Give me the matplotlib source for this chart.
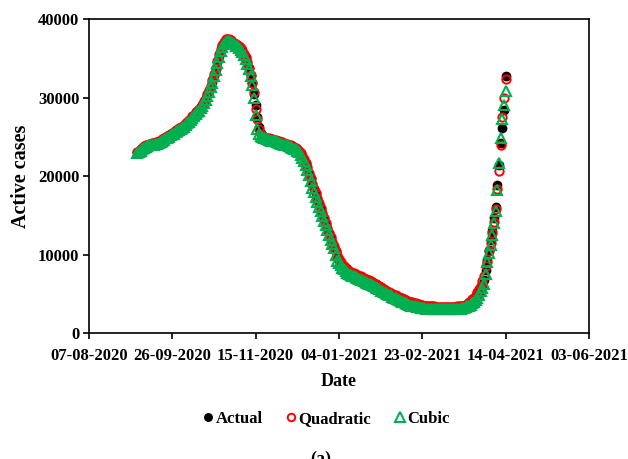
import datetime

import matplotlib
matplotlib.use("Agg")
import matplotlib.pyplot as plt
import matplotlib.dates as mdates
import numpy as np
import pandas as pd

plt.rcParams['font.family'] = ['Liberation Serif', 'DejaVu Serif']
plt.rcParams['font.weight'] = 'bold'

# Daily values, 05-09-2020 .. 14-04-2021
START_DATE = '2020-09-05'

actual = [
    23000, 23100, 23300, 23500, 23700, 23800, 23900, 24000, 24000, 24100,
    24100, 24200, 24200, 24300, 24400, 24600, 24700, 24900, 25000, 25100,
    25300, 25400, 25500, 25700, 25800, 26000, 26100, 26200, 26400, 26600,
    26800, 27000, 27200, 27500, 27700, 28000, 28200, 28400, 28700, 29000,
    29400, 29800, 30300, 30800, 31400, 32000, 32800, 33600, 34500, 35300,
    36000, 36500, 36900, 37200, 37300, 37300, 37200, 37000, 36900, 36700,
    36600, 36400, 36200, 35900, 35500, 35000, 34400, 33700, 32800, 31800,
    30500, 29000, 27500, 26200, 25500, 25200, 25000, 24900, 24800, 24700,
    24600, 24600, 24500, 24500, 24400, 24300, 24200, 24200, 24100, 24000,
    24000, 23900, 23800, 23700, 23600, 23500, 23300, 23100, 22800, 22500,
    22100, 21600, 21000, 20300, 19600, 19000, 18400, 17800, 17100, 16400,
    15800, 15200, 14600, 13900, 13300, 12700, 12100, 11500, 11000, 10500,
    9800, 9300, 8900, 8600, 8400, 8200, 8000, 7800, 7700, 7600,
    7500, 7400, 7300, 7200, 7100, 7000, 6900, 6800, 6700, 6600,
    6500, 6400, 6300, 6200, 6000, 5900, 5700, 5600, 5500, 5300,
    5200, 5100, 5000, 4900, 4800, 4700, 4600, 4500, 4400, 4300,
    4200, 4100, 4000, 3900, 3800, 3800, 3700, 3700, 3600, 3600,
    3500, 3500, 3400, 3400, 3400, 3300, 3300, 3300, 3300, 3200,
    3200, 3200, 3200, 3200, 3200, 3200, 3200, 3200, 3200, 3200,
    3200, 3200, 3300, 3300, 3300, 3400, 3400, 3500, 3600, 3700,
    3800, 4000, 4200, 4500, 4800, 5200, 5600, 6100, 6800, 8000,
    9300, 10600, 11800, 13000, 14600, 16000, 18800, 21400, 24200, 26100,
    28400, 32700,
]

quadratic = [
    23100, 23200, 23400, 23600, 23800, 23900, 24000, 24100, 24100, 24200,
    24200, 24300, 24300, 24400, 24500, 24700, 24800, 25000, 25100, 25200,
    25400, 25500, 25600, 25800, 25900, 26100, 26200, 26300, 26500, 26700,
    26900, 27100, 27300, 27600, 27800, 28100, 28300, 28500, 28800, 29100,
    29500, 29900, 30400, 30900, 31500, 32200, 33000, 33800, 34700, 35500,
    36200, 36700, 37100, 37400, 37500, 37400, 37300, 37100, 37000, 36800,
    36700, 36500, 36300, 36000, 35600, 35100, 34500, 33800, 32900, 31900,
    30700, 28500, 27200, 26000, 25400, 25200, 25000, 24900, 24800, 24800,
    24700, 24700, 24600, 24600, 24500, 24400, 24300, 24300, 24200, 24100,
    24100, 24000, 23900, 23800, 23700, 23600, 23400, 23200, 22900, 22600,
    22200, 21700, 21100, 20400, 19700, 19000, 18400, 17800, 17200, 16500,
    15900, 15300, 14700, 14000, 13400, 12800, 12200, 11600, 11100, 10400,
    9900, 9400, 9000, 8700, 8500, 8300, 8100, 7900, 7800, 7700,
    7600, 7500, 7400, 7300, 7200, 7100, 7000, 6900, 6800, 6700,
    6600, 6500, 6400, 6300, 6100, 6000, 5800, 5700, 5600, 5400,
    5300, 5200, 5100, 5000, 4900, 4800, 4700, 4600, 4500, 4400,
    4300, 4200, 4100, 4000, 3900, 3900, 3800, 3800, 3700, 3700,
    3600, 3600, 3500, 3500, 3500, 3400, 3400, 3400, 3400, 3300,
    3300, 3300, 3300, 3300, 3300, 3300, 3300, 3300, 3300, 3300,
    3300, 3300, 3400, 3400, 3400, 3500, 3500, 3600, 3700, 3900,
    4000, 4300, 4500, 4800, 5200, 5600, 6000, 6600, 7300, 8500,
    9000, 10400, 11500, 12700, 14200, 15800, 18300, 20700, 24000, 27500,
    30000, 32300,
]

cubic = [
    22900, 23000, 23200, 23400, 23600, 23700, 23800, 23900, 23900, 24000,
    24000, 24100, 24100, 24200, 24300, 24500, 24600, 24800, 24900, 25000,
    25200, 25300, 25400, 25600, 25700, 25900, 26000, 26100, 26300, 26500,
    26700, 26900, 27100, 27400, 27600, 27900, 28100, 28300, 28600, 28900,
    29300, 29700, 30200, 30700, 31300, 31900, 32700, 33500, 34400, 35200,
    35900, 36400, 36800, 37100, 37200, 37200, 37100, 36900, 36800, 36600,
    36500, 36300, 36100, 35800, 35400, 34900, 34300, 33600, 32700, 31600,
    30000, 27800, 26000, 25300, 25100, 25000, 24900, 24800, 24700, 24600,
    24500, 24500, 24400, 24400, 24300, 24200, 24100, 24100, 24000, 23900,
    23900, 23800, 23700, 23600, 23500, 23400, 23200, 23000, 22700, 22300,
    21900, 21400, 20800, 20100, 19300, 18500, 17900, 17300, 16700, 16000,
    15500, 14900, 14300, 13700, 13100, 12500, 11900, 11300, 10800, 10000,
    9200, 8900, 8600, 8300, 8100, 7900, 7700, 7500, 7400, 7300,
    7200, 7100, 7000, 6900, 6800, 6700, 6600, 6500, 6400, 6300,
    6200, 6100, 6000, 5900, 5700, 5600, 5400, 5300, 5200, 5100,
    5000, 4900, 4800, 4600, 4500, 4400, 4300, 4200, 4100, 4000,
    3900, 3800, 3700, 3600, 3500, 3500, 3400, 3400, 3300, 3300,
    3200, 3200, 3200, 3100, 3100, 3100, 3100, 3000, 3000, 3000,
    3000, 3000, 3000, 3000, 3000, 3000, 3000, 3000, 3000, 3000,
    3000, 3000, 3100, 3100, 3100, 3200, 3200, 3300, 3400, 3500,
    3600, 3800, 4000, 4200, 4500, 4900, 5300, 5700, 6300, 7500,
    9000, 10200, 11200, 12500, 14000, 15500, 18200, 21600, 24800, 27200,
    29000, 30800,
]

dates = pd.date_range(START_DATE, periods=len(actual), freq='D')

x_first = datetime.date(2020, 8, 7)
x_last = datetime.date(2021, 6, 3)
x_ticks = pd.date_range(x_first, x_last, freq='50D')
y_ticks = [0, 10000, 20000, 30000, 40000]

GREEN = '#00B050'
RED = '#FF0000'

fig = plt.figure(figsize=(6.28, 4.59), dpi=100)
ax = fig.add_axes([0.1417, 0.2745, 0.7963, 0.6841])

ax.plot(dates, actual, linestyle='none', marker='o', ms=6,
        color='black', label='Actual')
ax.plot(dates, quadratic, linestyle='none', marker='o', ms=6,
        mfc='none', mec=RED, mew=1.4, label='Quadratic')
ax.plot(dates, cubic, linestyle='none', marker='^', ms=7.5,
        mfc='none', mec=GREEN, mew=1.5, label='Cubic')

ax.set_xlim(x_first, x_last)
ax.set_ylim(0, 40000)
ax.set_xticks(x_ticks)
ax.xaxis.set_major_formatter(mdates.DateFormatter('%d-%m-%Y'))
ax.set_yticks(y_ticks)

for s in ax.spines.values():
    s.set_linewidth(1.2)
    s.set_color('black')
ax.tick_params(axis='both', direction='out', length=4, width=1.2,
               labelsize=12)
ax.tick_params(axis='x', pad=7)
ax.tick_params(axis='y', pad=3)

ax.set_xlabel('Date', fontsize=13, fontweight='bold', labelpad=6)
ax.set_ylabel('Active cases', fontsize=14.5, fontweight='bold', labelpad=5)

fig.legend(loc='center', bbox_to_anchor=(0.52, 0.087), ncol=3, frameon=False,
           prop={'size': 12, 'weight': 'bold'}, handlelength=0.6,
           handletextpad=0.15, columnspacing=1.4, markerscale=0.9)

fig.text(0.51, 1 - 451 / 459, '(a)', ha='center', va='top',
         fontsize=13, fontweight='bold')

fig.savefig('out.png', dpi=100)
